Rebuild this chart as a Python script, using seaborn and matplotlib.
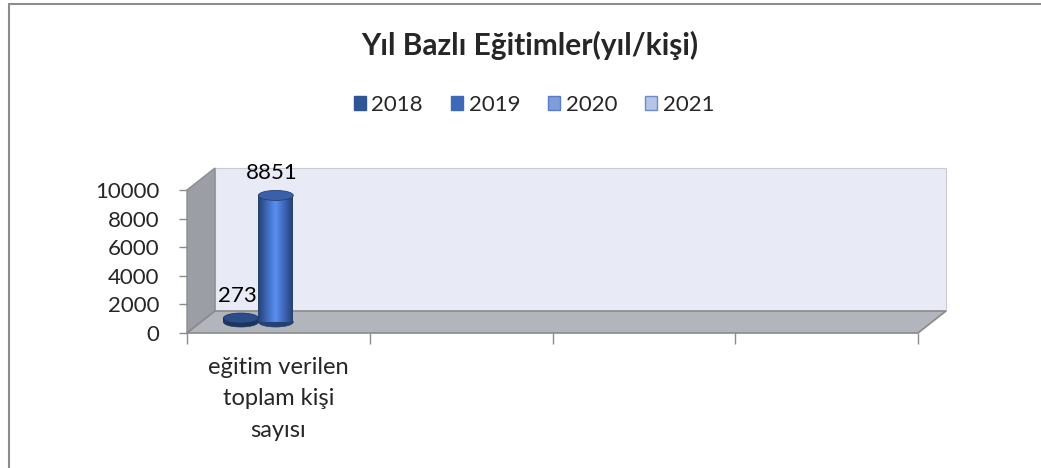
import numpy as np
import pandas as pd
import matplotlib
matplotlib.use('Agg')
import matplotlib.pyplot as plt
import matplotlib.transforms as mtransforms
import seaborn as sns
from matplotlib.patches import Polygon, Rectangle, Ellipse, Patch
from matplotlib.colors import LinearSegmentedColormap, to_rgb
from matplotlib.lines import Line2D

############ Veriler ############
kategori = ['eğitim verilen\ntoplam kişi\nsayısı']
yillar = ['2018', '2019', '2020', '2021']
degerler = [273, 8851, np.nan, np.nan]
renkler = ['#2F5597', '#3E68B8', '#7F9DDA', '#B4C5E8']
kenarlar = ['#2F5597', '#3E68B8', '#5A7CC4', '#6F89C9']
y_ticks = [0, 2000, 4000, 6000, 8000, 10000]
baslik = 'Yıl Bazlı Eğitimler(yıl/kişi)'

df = pd.DataFrame({'kategori': kategori * len(yillar), 'yil': yillar, 'deger': degerler})

sns.set_style('white')
plt.rcParams['font.family'] = ['Lato', 'DejaVu Sans']

W, H = 1041, 468
fig = plt.figure(figsize=(W / 100, H / 100), dpi=100)
ax = fig.add_axes([187 / W, 1 - 333 / H, 731 / W, 143 / H])
ax.set_facecolor('none')

sns.barplot(data=df, x='kategori', y='deger', hue='yil', hue_order=yillar,
            palette=renkler, width=0.765, gap=0, saturation=1, legend=False, ax=ax)
bars = list(ax.patches)
ax.set_xlim(-0.5, 3.5)
ax.set_ylim(0, 10000)

# piksel -> veri birimi
sx = (731 / 4)
sy = (143 / 10000)
ddx, ddy = 28 / sx, 22 / sy
arka = ax.transData + mtransforms.ScaledTranslation(0.28, 0.22, fig.dpi_scale_trans)
orta = ax.transData + mtransforms.ScaledTranslation(0.14, 0.11, fig.dpi_scale_trans)

############ 3B duvarlar ############
ax.add_patch(Rectangle((-0.5, 0), 4, 10000, transform=arka, fc='#E8EAF6', ec='#C9CAD0',
                       lw=0.8, zorder=0, clip_on=False))
ax.add_patch(Polygon([(-0.5, 0), (-0.5, 10000), (-0.5 + ddx, 10000 + ddy), (-0.5 + ddx, ddy)],
                     closed=True, fc='#9C9EA5', ec='#8A8C92', lw=1, zorder=0.5, clip_on=False))
ax.add_patch(Polygon([(-0.5, 0), (3.5, 0), (3.5 + ddx, ddy), (-0.5 + ddx, ddy)],
                     closed=True, fc='#B2B5BC', ec='#8A8A8A', lw=1.2, zorder=1, clip_on=False))

############ Silindirler ############
eh = 10 / sy
for p in bars:
    h = p.get_height()
    if not np.isfinite(h):
        continue
    x0, w = p.get_x(), p.get_width()
    base = np.array(to_rgb(p.get_facecolor()))
    koyu = base * 0.62
    acik = np.clip(base * 1.25 + 0.05, 0, 1)
    cm = LinearSegmentedColormap.from_list('sil', [koyu, base, acik, base, koyu])
    p.set_visible(False)
    ax.add_patch(Ellipse((x0 + w / 2 + 0.005, 0), w, eh, transform=orta, fc=koyu, ec=koyu,
                         lw=0.5, zorder=3, clip_on=False))
    im = ax.imshow(np.linspace(0, 1, 64).reshape(1, -1), extent=[x0 + 0.005, x0 + w + 0.005, 0, h],
                   cmap=cm, aspect='auto', interpolation='bilinear', zorder=3.1)
    im.set_transform(orta)
    im.set_clip_on(False)
    ax.add_patch(Ellipse((x0 + w / 2 + 0.005, h), w, eh, transform=orta, fc=base * 0.92, ec=koyu,
                         lw=0.6, zorder=3.2, clip_on=False))
    ax.annotate(f'{int(h)}', xy=(x0 + w / 2, h), xycoords=orta, xytext=(-2, 16),
                textcoords='offset points', ha='center', va='center', fontsize=16, color='black')

ax.set_xlim(-0.5, 3.5)
ax.set_ylim(0, 10000)

############ Eksenler ############
for s in ax.spines.values():
    s.set_visible(False)
ax.set_yticks(y_ticks, labels=[str(v) for v in y_ticks])
ax.tick_params(axis='y', left=True, length=6, width=1, color='#8C8C8C', pad=14, labelsize=16)
ax.set_xticks([-0.5, 0.5, 1.5, 2.5, 3.5], labels=[''] * 5)
ax.tick_params(axis='x', which='major', bottom=True, length=8, width=1, color='#8C8C8C')
ax.set_xticks([0], labels=kategori, minor=True)
ax.tick_params(axis='x', which='minor', bottom=True, length=0, pad=17, labelsize=17)
for t in ax.get_xticklabels(minor=True):
    t.set_linespacing(1.62)
ax.set_xlabel('')
ax.set_ylabel('')

############ Başlık ve lejant ############
fig.text(530 / W, 1 - 45 / H, baslik, ha='center', va='center',
         fontsize=21.5, fontweight='bold')
handles = [Patch(fc=c, ec=e, lw=1) for c, e in zip(renkler, kenarlar)]
fig.legend(handles, yillar, loc='center', bbox_to_anchor=(534 / W, 1 - 105 / H), ncol=4,
           frameon=False, fontsize=16, handlelength=0.55, handleheight=0.55,
           handletextpad=0.25, columnspacing=1.25)

fig.add_artist(Line2D([9 / W, 9 / W], [0, 1 - 4 / H], transform=fig.transFigure,
                      color='#8C8C8C', lw=1.5))
fig.add_artist(Line2D([9 / W, 1], [1 - 4 / H, 1 - 4 / H], transform=fig.transFigure,
                      color='#8C8C8C', lw=1.5))

fig.savefig('out.png', dpi=100)
